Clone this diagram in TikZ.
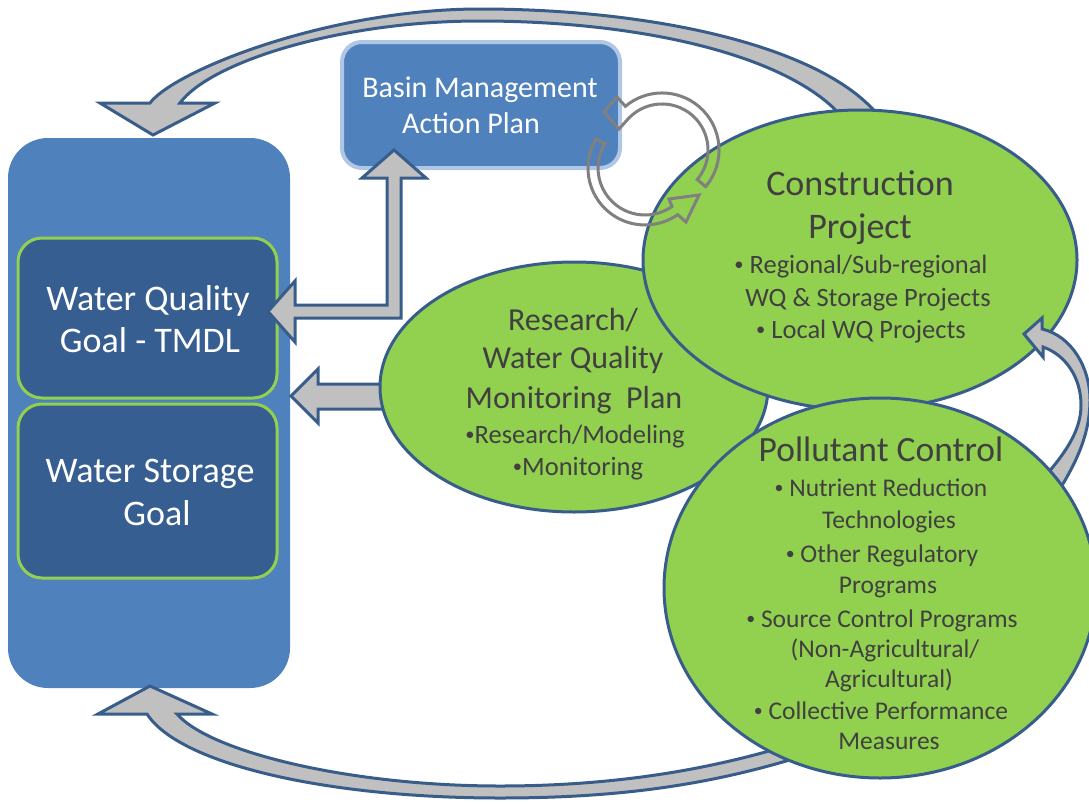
\documentclass[tikz,border=0pt]{standalone}
\usepackage{fontspec}
\usepackage{graphicx}
\setmainfont{Carlito}
\usetikzlibrary{shapes.geometric}
\definecolor{panelblue}{HTML}{4F81BD}
\definecolor{goalblue}{HTML}{375E91}
\definecolor{leafgreen}{HTML}{92D050}
\definecolor{edgeblue}{HTML}{385D8A}
\definecolor{paleblue}{HTML}{AFC6E4}
\definecolor{arrowgray}{HTML}{C0C0C0}
\definecolor{cyclegray}{HTML}{808080}
\definecolor{inkgray}{HTML}{404040}
\newcommand{\fsz}[1]{\fontsize{#1}{#1}\selectfont}
% small list bullet
\newcommand{\bul}{\raisebox{0.1em}{\scalebox{0.7}{•}}}

\begin{document}
\begin{tikzpicture}[x=1pt, y=-1pt,
  panel/.style={rectangle, rounded corners=40pt, fill=panelblue, minimum width=282pt, minimum height=550pt, inner sep=0pt},
  goal/.style={rectangle, rounded corners=24pt, fill=goalblue, draw=leafgreen, line width=3pt, minimum width=259pt, inner sep=0pt},
  plan/.style={rectangle, rounded corners=20pt, fill=panelblue, draw=paleblue, line width=4pt, minimum width=278pt, minimum height=126pt, inner sep=0pt},
  bubble/.style={ellipse, fill=leafgreen, draw=edgeblue, line width=3pt, inner sep=0pt},
  blockarrow/.style={fill=arrowgray, draw=edgeblue, line width=3pt, line join=miter},
  cyclearrow/.style={draw=cyclegray, line width=3pt, line join=miter},
  wline/.style={anchor=base, inner sep=0pt, text=white},
  gline/.style={anchor=base, inner sep=0pt, text=inkgray},
]
\useasboundingbox (0,0) rectangle (1089,803);

% left column: goals
\node[panel] (panel) at (149,413) {};
\node[goal, minimum height=160pt] (wqgoal) at (147.5,318) {};
\node[goal, minimum height=174pt] (wsgoal) at (147.5,491) {};

% plan box
\node[plan] (bmap) at (481,105) {};

% bent arrow: plan <-> quality goal
\draw[blockarrow] (268,311.5) -- (295,281) -- (295,305) -- (387,305) -- (387,178)
  -- (362,178) -- (394,150) -- (426,178) -- (401,178) -- (401,318)
  -- (295,318) -- (295,342) -- cycle;

% arrow from monitoring plan to the goals
\draw[blockarrow] (291,396) -- (318,369) -- (318,384) -- (400,384) -- (400,409)
  -- (318,409) -- (318,423) -- cycle;

% upper feedback arc
\draw[blockarrow] (150,103) .. controls (175,70) and (330,9) .. (480,9)
  .. controls (650,9) and (820,45) .. (878,115)
  -- (843,118)
  .. controls (790,55) and (640,21) .. (480,21)
  .. controls (340,21) and (210,62) .. (180,103)
  -- (215,103) -- (153,135) -- (100,103) -- cycle;

% lower feedback arc
\draw[blockarrow] (147,714) .. controls (180,765) and (330,798) .. (500,798)
  .. controls (640,798) and (740,780) .. (850,740)
  -- (840,728)
  .. controls (740,765) and (630,786) .. (500,786)
  .. controls (350,786) and (210,752) .. (177,714)
  -- (212,714) -- (150,686) -- (98,714) -- cycle;

% program ellipses
\node[bubble, minimum width=388pt, minimum height=250pt] (research) at (574,387) {};
\node[bubble, minimum width=434pt, minimum height=300pt] (construction) at (860,260) {};

% arc from pollutant control up to construction
\draw[blockarrow] (1042,329) .. controls (1072,336) and (1090,368) .. (1090,400)
  .. controls (1090,432) and (1078,460) .. (1058,492)
  -- (1040,482)
  .. controls (1064,455) and (1081,432) .. (1081,405)
  .. controls (1081,378) and (1066,355) .. (1043,347)
  -- (1043,357) -- (1024,334) -- (1042,318) -- cycle;

\node[bubble, minimum width=432pt, minimum height=380pt] (pollutant) at (880,588) {};

% two-way cycle between plan and construction
\draw[cyclearrow] (617,97) -- (604,112) -- (619,129) -- (627.3,119.8)
  arc[start angle=-139, end angle=40, radius=46] -- (705.7,186.6)
  arc[start angle=40, end angle=-130, radius=57] -- cycle;
\draw[cyclearrow] (604.7,143.8) -- (596.1,138.6)
  arc[start angle=211, end angle=55, radius=57] -- (686,222) -- (699,195)
  -- (669,199) -- (672,206.5)
  arc[start angle=55, end angle=211, radius=47] -- cycle;

% texts
\node[wline, font=\fsz{36}] (wq1) at (148,310) {Water Quality};
\node[wline, font=\fsz{36}] (wq2) at (150,352) {Goal - TMDL};
\node[wline, font=\fsz{36}] (ws1) at (150,482) {Water Storage};
\node[wline, font=\fsz{36}] (ws2) at (157,525) {Goal};

\node[wline, font=\fsz{30}] (bm1) at (480,97) {Basin Management};
\node[wline, font=\fsz{30}] (bm2) at (471,133) {Action Plan};

\node[gline, font=\fsz{32}] (rs1) at (573,330) {Research/};
\node[gline, font=\fsz{32}] (rs2) at (573,368) {Water Quality};
\node[gline, font=\fsz{32}] (rs3) at (574,408) {Monitoring~ Plan};
\node[gline, font=\fsz{26.5}] (rs4) at (575,443) {\bul Research/Modeling};
\node[gline, font=\fsz{26.5}] (rs5) at (578,475) {\bul Monitoring};

\node[gline, font=\fsz{36}] (cp1) at (860,195) {Construction};
\node[gline, font=\fsz{36}] (cp2) at (860,238) {Project};
\node[gline, font=\fsz{26.5}] (cp3) at (861,273) {\bul\ Regional/Sub-regional};
\node[gline, font=\fsz{26.5}] (cp4) at (868,306) {WQ \& Storage Projects};
\node[gline, font=\fsz{26.5}] (cp5) at (861,338) {\bul\ Local WQ Projects};

\node[gline, font=\fsz{35.5}] (pc1) at (881,461) {Pollutant Control};
\node[gline, font=\fsz{25.5}] (pc2) at (881,496) {\bul\ Nutrient Reduction};
\node[gline, font=\fsz{25.5}] (pc3) at (889,528) {Technologies};
\node[gline, font=\fsz{25.5}] (pc4) at (882,562) {\bul\ Other Regulatory};
\node[gline, font=\fsz{25.5}] (pc5) at (888,593) {Programs};
\node[gline, font=\fsz{25.5}] (pc6) at (882,627) {\bul\ Source Control Programs};
\node[gline, font=\fsz{25.5}] (pc7) at (885,657) {(Non-Agricultural/};
\node[gline, font=\fsz{25.5}] (pc8) at (889,687) {Agricultural)};
\node[gline, font=\fsz{25.5}] (pc9) at (881,719) {\bul\ Collective Performance};
\node[gline, font=\fsz{25.5}] (pc10) at (889,749) {Measures};
\end{tikzpicture}
\end{document}
